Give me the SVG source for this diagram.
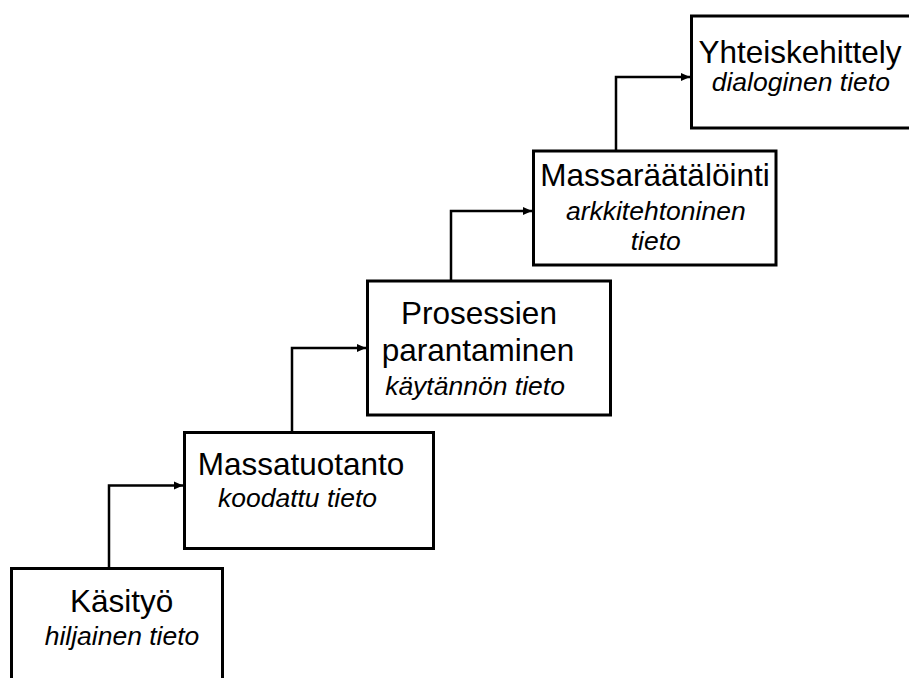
<svg xmlns="http://www.w3.org/2000/svg" width="909" height="678" viewBox="0 0 909 678">
<style>
.box{fill:#fff;stroke:#000;stroke-width:3}
.m{font-family:"Liberation Sans",Arial,sans-serif;font-size:31.5px;fill:#000;text-anchor:middle}
.i{font-family:"Liberation Sans",Arial,sans-serif;font-size:26.5px;font-style:italic;fill:#000;text-anchor:middle}
.c{fill:none;stroke:#000;stroke-width:2.5}
</style>
<defs>
<marker id="ah" markerUnits="userSpaceOnUse" markerWidth="10" markerHeight="10" refX="9" refY="5" orient="auto">
<path d="M0,1 L9,5 L0,9 Z" fill="#000"/>
</marker>
</defs>
<rect width="909" height="678" fill="#fff"/>
<g id="connectors">
<path class="c" d="M109,568 V485.5 H183" marker-end="url(#ah)"/>
<path class="c" d="M292,432 V348 H366" marker-end="url(#ah)"/>
<path class="c" d="M451,281 V211 H532" marker-end="url(#ah)"/>
<path class="c" d="M616,151 V77 H690" marker-end="url(#ah)"/>
</g>
<g id="kasityo">
<rect class="box" x="11.5" y="568.5" width="211" height="130"/>
<text class="m" x="121.7" y="611.5">Käsityö</text>
<text class="i" x="122" y="645">hiljainen tieto</text>
</g>
<g id="massatuotanto">
<rect class="box" x="184.5" y="432.5" width="249" height="116"/>
<text class="m" x="301" y="475">Massatuotanto</text>
<text class="i" x="297.5" y="507">koodattu tieto</text>
</g>
<g id="prosessien">
<rect class="box" x="367.5" y="281" width="243" height="134"/>
<text class="m" x="479" y="324">Prosessien</text>
<text class="m" x="478" y="360.5">parantaminen</text>
<text class="i" x="475" y="395">käytännön tieto</text>
</g>
<g id="massaraatalointi">
<rect class="box" x="533.5" y="151" width="242.5" height="114"/>
<text class="m" x="655" y="185.7">Massaräätälöinti</text>
<text class="i" x="655.8" y="220">arkkitehtoninen</text>
<text class="i" x="655.8" y="250">tieto</text>
</g>
<g id="yhteiskehittely">
<rect class="box" x="691.5" y="16" width="240" height="112"/>
<text class="m" x="800" y="63.3">Yhteiskehittely</text>
<text class="i" x="800.8" y="90.7">dialoginen tieto</text>
</g>
</svg>
